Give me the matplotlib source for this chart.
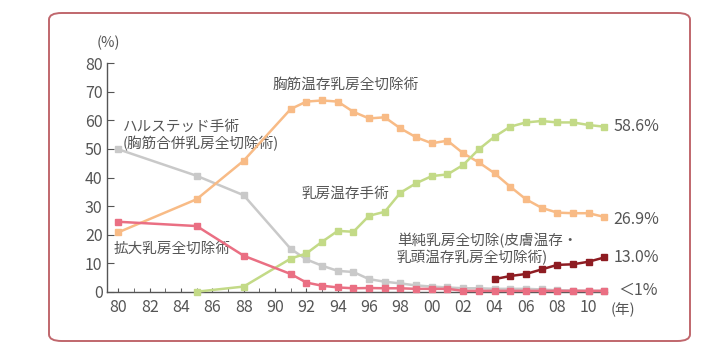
import matplotlib.pyplot as plt
from matplotlib.patches import FancyBboxPatch
from matplotlib.ticker import MultipleLocator

plt.rcParams['font.family'] = ['Noto Sans CJK JP', 'DejaVu Sans']

# 手術術式の割合 (%)
years_halsted = [1980, 1985, 1988, 1991, 1992, 1993, 1994, 1995, 1996, 1997, 1998,
                 1999, 2000, 2001, 2002, 2003, 2004, 2005, 2006, 2007, 2008, 2009, 2010, 2011]
halsted = [49.9, 40.6, 33.8, 15.0, 11.3, 9.1, 7.3, 6.9, 4.4, 3.5, 2.9,
           2.2, 1.8, 1.5, 1.2, 1.2, 1.0, 1.0, 1.0, 0.8, 0.5, 0.4, 0.3, 0.3]

years_mrm = [1980, 1985, 1988, 1991, 1992, 1993, 1994, 1995, 1996, 1997, 1998, 1999,
             2000, 2001, 2002, 2003, 2004, 2005, 2006, 2007, 2008, 2009, 2010, 2011]
mrm = [20.8, 32.4, 45.9, 64.0, 66.6, 67.0, 66.6, 63.0, 60.7, 61.1, 57.2, 54.1,
       52.0, 52.9, 48.5, 45.3, 41.5, 36.8, 32.4, 29.4, 27.7, 27.5, 27.5, 26.2]

years_ext = [1980, 1985, 1988, 1991, 1992, 1993, 1994, 1995, 1996, 1997, 1998, 1999,
             2000, 2001, 2002, 2003, 2004, 2005, 2006, 2007, 2008, 2009, 2010, 2011]
extended = [24.5, 23.0, 12.6, 6.2, 3.2, 2.1, 1.5, 1.2, 1.3, 1.2, 1.2, 1.0,
            1.0, 1.0, 0.3, 0.3, 0.3, 0.3, 0.3, 0.3, 0.3, 0.3, 0.3, 0.3]

years_bcs = [1985, 1988, 1991, 1992, 1993, 1994, 1995, 1996, 1997, 1998, 1999, 2000,
             2001, 2002, 2003, 2004, 2005, 2006, 2007, 2008, 2009, 2010, 2011]
bcs = [0.0, 1.8, 11.6, 13.4, 17.5, 21.3, 21.0, 26.6, 28.0, 34.7, 38.0, 40.5,
       41.1, 44.4, 49.9, 54.3, 57.8, 59.3, 59.8, 59.3, 59.3, 58.4, 57.8]

years_simple = [2004, 2005, 2006, 2007, 2008, 2009, 2010, 2011]
simple = [4.4, 5.5, 6.2, 7.8, 9.4, 9.6, 10.5, 12.0]

xtick_years = list(range(1980, 2011, 2))
xtick_labels = [f"{y % 100:02d}" for y in xtick_years]

text_color = "#555555"

fig = plt.figure(figsize=(7.06, 3.64), dpi=100)

# 外枠
frame = FancyBboxPatch((49 / 706, 1 - 341 / 364), (690 - 49) / 706, (341 - 13) / 364,
                       boxstyle="round,pad=0,rounding_size=0.018",
                       transform=fig.transFigure, facecolor="none",
                       edgecolor="#c0676d", linewidth=1.4)
fig.patches.append(frame)

ax = fig.add_axes([0.1511, 0.1986, 0.709, 0.6274])

style = dict(marker="s", markersize=5, linewidth=1.8, clip_on=False)
ax.plot(years_halsted, halsted, color="#c9c9c9", zorder=3, **style)
ax.plot(years_mrm, mrm, color="#f8bb86", zorder=4, **style)
ax.plot(years_bcs, bcs, color="#c3da87", zorder=5, **style)
ax.plot(years_ext, extended, color="#ea6f83", zorder=6, **style)
ax.plot(years_simple, simple, color="#8e1c22", zorder=7, **style)

ax.set_xlim(1979.26, 2011.19)
ax.set_ylim(0, 80)
ax.set_xticks(xtick_years)
ax.set_xticklabels(xtick_labels)
ax.xaxis.set_minor_locator(MultipleLocator(1))
ax.yaxis.set_major_locator(MultipleLocator(10))

for side in ["top", "right"]:
    ax.spines[side].set_visible(False)
for side in ["left", "bottom"]:
    ax.spines[side].set_color("#555555")
    ax.spines[side].set_linewidth(1.0)

ax.tick_params(axis="x", which="both", direction="in", length=3, color="#555555",
               labelsize=11.5, labelcolor=text_color, pad=5)
ax.tick_params(axis="y", direction="in", length=5, color="#555555",
               labelsize=11.5, labelcolor=text_color, pad=3)

fs = 10.5
ax.text(1979.4, 87.1, "(%)", ha="center", va="center", fontsize=fs, color=text_color)
ax.text(2011.4, -6.4, "(年)", ha="left", va="center", fontsize=fs, color=text_color)

ax.text(1989.81, 72.4, "胸筋温存乳房全切除術", ha="left", va="center", fontsize=fs, color=text_color)
ax.text(1980.32, 57.8, "ハルステッド手術", ha="left", va="center", fontsize=fs, color=text_color)
ax.text(1980.25, 52.0, "(胸筋合併乳房全切除術)", ha="left", va="center", fontsize=fs, color=text_color)
ax.text(1991.7, 34.2, "乳房温存手術", ha="left", va="center", fontsize=fs, color=text_color)
ax.text(1979.68, 15.2, "拡大乳房全切除術", ha="left", va="center", fontsize=fs, color=text_color)
ax.text(1997.77, 18.1, "単純乳房全切除(皮膚温存・", ha="left", va="center", fontsize=fs, color=text_color)
ax.text(1997.77, 12.05, "乳頭温存乳房全切除術)", ha="left", va="center", fontsize=fs, color=text_color)

ax.text(2011.6, 57.8, "58.6%", ha="left", va="center", fontsize=11.5, color=text_color)
ax.text(2011.6, 25.4, "26.9%", ha="left", va="center", fontsize=11.5, color=text_color)
ax.text(2011.6, 11.9, "13.0%", ha="left", va="center", fontsize=11.5, color=text_color)
ax.text(2011.9, 0.6, "＜1%", ha="left", va="center", fontsize=11.5, color=text_color)

fig.savefig("out.png", dpi=100)
